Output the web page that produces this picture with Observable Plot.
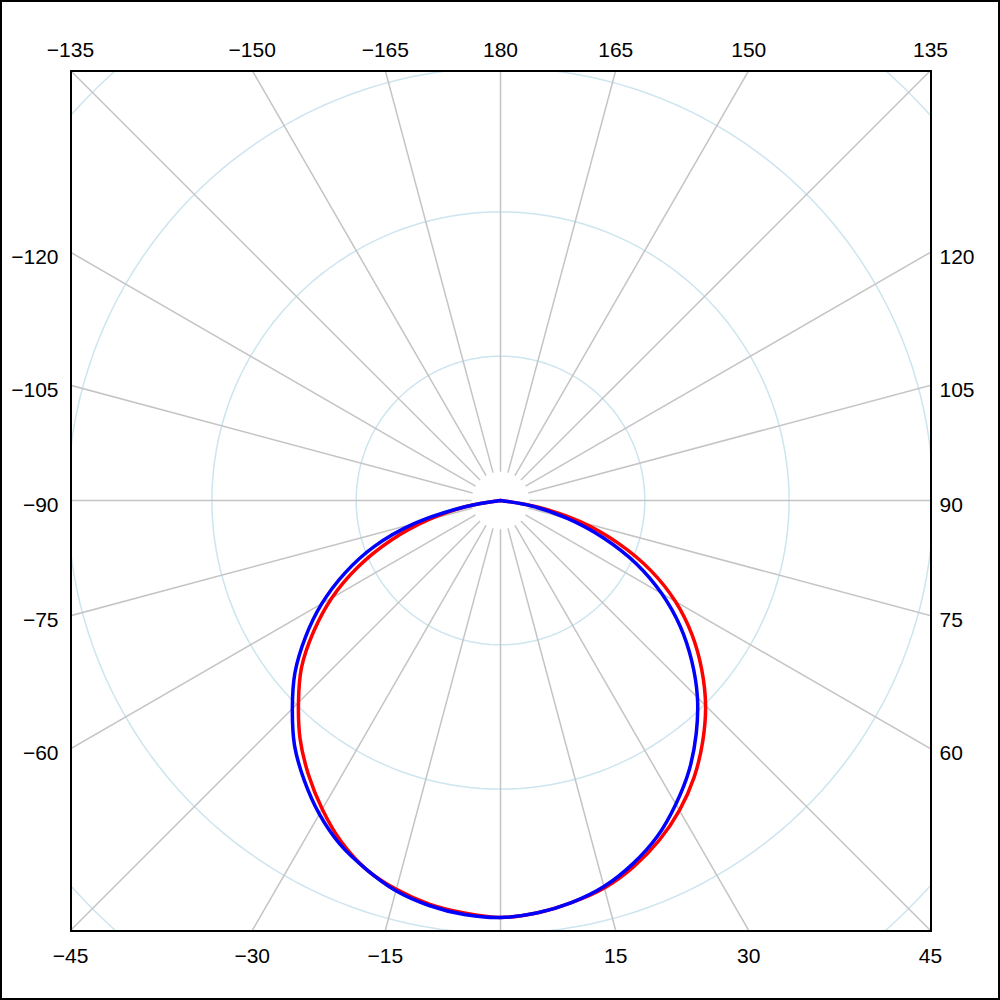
<!DOCTYPE html>
<html>
<head>
<meta charset="utf-8">
<script src="https://cdn.jsdelivr.net/npm/d3@7"></script>
<script src="https://cdn.jsdelivr.net/npm/@observablehq/plot@0.6"></script>
<style>
  html, body { margin: 0; padding: 0; background: #ffffff; }
  #chart svg { display: block; outline: 2px solid #000000; outline-offset: -2px; }
</style>
</head>
<body>
<div id="chart"></div>
<script>
// ---- Data (angle in degrees, 0 = bottom, positive clockwise toward the right) ----
const angles = [-90, -85, -80, -75, -70, -65, -60, -55, -50, -45, -40, -35, -30, -25, -20, -15, -10, -5,
                0, 5, 10, 15, 20, 25, 30, 35, 40, 45, 50, 55, 60, 65, 70, 75, 80, 85, 90];
const redValues = [0, 0, 0.24, 0.52, 0.81, 1.09, 1.35, 1.58, 1.80, 1.98, 2.16, 2.32, 2.47, 2.61, 2.72, 2.79, 2.84, 2.87,
                   2.89, 2.87, 2.83, 2.78, 2.70, 2.60, 2.48, 2.34, 2.18, 2.01, 1.82, 1.62, 1.40, 1.15, 0.87, 0.58, 0.26, 0, 0];
const blueValues = [0, 0, 0.25, 0.62, 0.93, 1.19, 1.43, 1.65, 1.86, 2.04, 2.22, 2.37, 2.51, 2.63, 2.72, 2.80, 2.85, 2.88,
                    2.89, 2.87, 2.83, 2.77, 2.68, 2.57, 2.43, 2.28, 2.11, 1.93, 1.73, 1.52, 1.29, 1.04, 0.76, 0.48, 0.22, 0, 0];

// grid
const ringValues = [1, 2, 3, 4];
const spokeAngles = [0, 15, 30, 45, 60, 75, 90, 105, 120, 135, 150, 165, 180, 195, 210, 225, 240, 255, 270, 285, 300, 315, 330, 345];

// edge tick labels (angles)
const topLabels = [-135, -150, -165, 180, 165, 150, 135];
const leftLabels = [-120, -105, -90, -75, -60];
const rightLabels = [120, 105, 90, 75, 60];
const bottomLabels = [-45, -30, -15, 15, 30, 45];

// ---- helpers ----
const extent = 2.98;      // half-width of the square plotting frame, in radial units
const spokeInner = 0.2;   // spokes start a little away from the centre
const spokeOuter = 5;
const rad = Math.PI / 180;
const px = (a, r) => r * Math.sin(a * rad);
const py = (a, r) => -r * Math.cos(a * rad);
const fmt = d3.format("d");

const redData = angles.map((a, i) => ({angle: a, value: redValues[i]}));
const blueData = angles.map((a, i) => ({angle: a, value: blueValues[i]}));

const ringSteps = d3.range(0, 361, 2);
const ringData = ringValues.flatMap(v => ringSteps.map(s => ({ring: v, angle: s})));

const chart = Plot.plot({
  width: 1000,
  height: 1000,
  marginTop: 70, marginRight: 70, marginBottom: 70, marginLeft: 70,
  x: {domain: [-extent, extent], axis: null},
  y: {domain: [-extent, extent], axis: null},
  style: {fontFamily: "'Liberation Sans', Arial, sans-serif", fontSize: "21px", background: "#ffffff", color: "#000000"},
  marks: [
    Plot.line(ringData, {
      x: d => px(d.angle, d.ring), y: d => py(d.angle, d.ring), z: "ring",
      stroke: "#cde5ee", strokeWidth: 1.5, clip: true
    }),
    Plot.link(spokeAngles, {
      x1: a => px(a, spokeInner), y1: a => py(a, spokeInner),
      x2: a => px(a, spokeOuter), y2: a => py(a, spokeOuter),
      stroke: "#c4c4c4", strokeWidth: 1.5, clip: true
    }),
    Plot.line(redData, {
      x: d => px(d.angle, d.value), y: d => py(d.angle, d.value),
      stroke: "#ff0000", strokeWidth: 3.5, curve: "catmull-rom", clip: true
    }),
    Plot.line(blueData, {
      x: d => px(d.angle, d.value), y: d => py(d.angle, d.value),
      stroke: "#0000ff", strokeWidth: 3.5, curve: "catmull-rom", clip: true
    }),
    Plot.frame({stroke: "#000000", strokeWidth: 2, shapeRendering: "crispEdges"}),
    Plot.text(topLabels, {
      x: a => -extent * Math.tan(a * rad), y: () => extent,
      text: a => fmt(a), dy: -20, fontSize: 21, fill: "#000000"
    }),
    Plot.text(bottomLabels, {
      x: a => extent * Math.tan(a * rad), y: () => -extent,
      text: a => fmt(a), dy: 26, fontSize: 21, fill: "#000000"
    }),
    Plot.text(leftLabels, {
      x: () => -extent, y: a => extent * Math.cos(a * rad) / Math.sin(a * rad),
      text: a => fmt(a), textAnchor: "end", dx: -12, dy: 5, fontSize: 21, fill: "#000000"
    }),
    Plot.text(rightLabels, {
      x: () => extent, y: a => -extent * Math.cos(a * rad) / Math.sin(a * rad),
      text: a => fmt(a), textAnchor: "start", dx: 9, dy: 5, fontSize: 21, fill: "#000000"
    })
  ]
});

document.getElementById("chart").appendChild(chart);
</script>
</body>
</html>
